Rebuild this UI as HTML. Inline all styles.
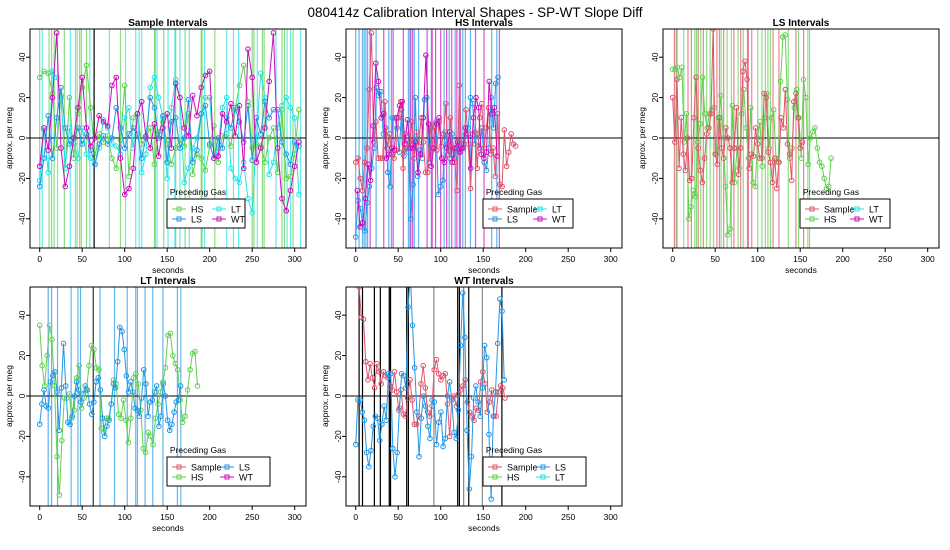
<!DOCTYPE html>
<html><head><meta charset="utf-8">
<style>
body{margin:0;background:#fff;}
svg{display:block;font-family:"Liberation Sans",sans-serif;}
</style></head>
<body>
<svg id="c" width="950" height="550">
<text x="475" y="17" text-anchor="middle" font-size="13.5">080414z   Calibration Interval Shapes - SP-WT Slope Diff</text>
</svg>
<script>
// ---- data ----
const xTicks=[0,50,100,150,200,250,300];
const yTicks=[-40,-20,0,20,40];
const panelTitles=["Sample Intervals","HS Intervals","LS Intervals","LT Intervals","WT Intervals"];
// panel 1
const p1HS=[30,33,32,22,-5,21,-15,20,-10,12,25,36,15,-9,2,-2,1,-10,-15,-1,26,-19,10,12,-3,0,5,-13,3,8,-3,-13,-5,-1,-4,12,-18,-8,-10,-16,-4,6,-12,1,2,-4,14,26,36,18,-5,-3,-4,-12,0,5,-17,14,-20,-19,-8,14];
const p1LS=[-24,-10,11,-10,10,25,5,-3,0,5,-3,2,-6,-13,-3,1,-3,0,15,5,-5,2,5,2,-10,0,20,15,0,11,-12,8,10,-5,0,19,-12,-6,12,16,-3,-10,0,-5,10,5,15,8,-2,16,-11,10,2,18,10,14,14,-2,-8,-13,-2,-4];
const p1LT=[-21,4,-17,33,30,20,-15,5,-3,-10,5,-8,-10,-13,-5,9,5,-3,-4,-8,10,15,-5,12,-17,-8,25,30,20,10,-20,15,29,20,-22,-15,-5,0,12,20,20,-10,-5,15,20,-15,-20,-22,-12,-30,-37,0,32,20,-18,-12,5,16,20,15,10,-28];
const p1WT=[-14,5,-6,20,52,-5,-24,-14,0,15,30,5,-4,0,11,8,6,26,30,-10,-28,-25,-15,12,18,1,-5,7,-9,5,12,-5,27,20,5,1,21,11,25,31,33,-10,-9,12,8,17,1,16,-15,44,30,-12,-5,5,28,52,-5,-30,-36,-26,-14,-2];
const p1VGreen=[0,11,14,17,29,44,47,49,55,95,135,136,146,160,171,190,191,206,250,252,262,264,285,288,298];
const p1VCyan=[3,21,36,42,59,82,101,113,117,120,138,151,159,165,176,194,220,228,234,256,278,291,295,307];
const p1VBlack=[64];
// panel 2
const p2Sample=[-12,-10,-20,-26,-12,-5,24,52,-2,8,-10,-10,-10,18,-5,2,-8,-10,-6,10,18,-15,2,-5,-2,8,-10,3,-4,10,-2,-17,-17,6,-5,5,-6,8,-4,2,17,-8,10,-5,-12,-26,26,-5,-3,14,-3,-25,2,3,-15,10,17,-5,5,15,-8,-5,-19,12,-23,-24,4,-14,-7,2,-3,-4];
const p2LS=[-49,-31,-35,-42,-46,-32,-24,-15,-5,25,21,23,2,5,-17,-24,10,10,5,-7,14,-9,-5,-7,-40,-23,20,-19,-6,-10,19,20,-12,5,6,8,-28,-24,-21,3,-3,-10,2,-10,-5,-7,-3,-5,2,5,20,17,-3,2,-5,5,-12,-16,-5,20,5,27,30];
const p2WT=[-26,-44,-42,-30,-13,-21,6,37,28,10,12,-10,-8,-5,-6,10,16,18,-3,9,-5,-5,-2,-17,-8,10,41,7,-14,-5,7,10,-10,-12,-5,3,-12,-5,-2,-7,-5,5,2,-15,10,20,15,-8,-10,-7,28,12,15,-9];
const p2VBlue=[0,4,8,10,12,14,24,39,42,62,65,69,74,89,104,110,117,122,126,129,135,160,166];
const p2VMag=[17,33,44,56,64,67,84,90,94,100,107,113,119,123,141,151,169];
// panel 3
const p3Sample=[20,-2,29,-15,10,-8,-16,0,-21,-20,10,30,-5,-16,-22,-10,2,5,12,54,-8,-13,10,-5,-10,5,0,-5,-22,-5,15,-18,-5,33,38,29,-15,-8,-9,5,-3,-10,-10,22,20,-7,-12,-22,-10,-25,-12,10,5,24,-3,-8,-21,18,22,10,-5,-2];
const p3HS=[34,34,35,30,35,-2,12,-40,-34,-26,-29,-2,7,30,12,5,12,14,15,-8,10,21,0,-24,-48,-45,16,-22,-5,-15,12,24,5,-10,15,-22,-24,0,8,-14,10,22,-5,10,14,-10,-12,28,50,51,19,-10,-5,15,24,10,-10,29,20,-13,0,3,5,-5,-12,-14,-20,-25,-24,-10];
const p3VRed=[2,5,18,22,30,36,52,55,60,72,80,88,89,93,118,125,145,154];
const p3VGreen=[4,13,26,28,33,40,44,48,57,64,69,77,83,100,105,109,112,115,136,148,159,161];
// panel 4
const p4HS=[35,15,5,20,35,28,5,-30,-49,-22,-1,-1,1,-11,-7,9,15,-6,-1,3,15,25,23,14,13,-16,-18,-11,-11,-4,8,6,-9,-11,-2,-12,-23,-11,9,11,6,-7,-26,-28,-18,-20,-24,-11,-4,2,7,14,30,31,20,16,13,-2,-13,-10,3,13,21,22,5];
const p4LS=[-14,-4,3,-5,-6,7,10,12,2,-17,4,26,5,-13,-14,-10,0,7,3,-3,1,5,3,-4,-9,-3,7,9,3,-11,-20,-15,-12,-4,6,4,17,34,32,23,10,2,7,2,-6,-7,-10,-1,13,6,-10,-3,-2,2,5,-15,-10,6,0,-12,-17,-14,-8,-3,-2,5];
const p4VBlue=[10,14,21,37,45,48,71,88,103,113,115,124,133,145,162,166];
const p4VDark=[63];
// panel 5
const p5Sample=[54,39,38,17,8,16,9,4,16,12,6,12,10,9,5,3,12,2,-7,3,-9,-10,-1,8,-2,-14,-14,-10,6,15,4,-8,-10,-5,13,18,11,8,10,11,-4,-20,-1,0,-5,1,3,5,8,-3,-8,-10,-12,-6,-7,7,12,6,-8,-3,3,-10,-10,2,5,4,-1];
const p5LS=[-24,-2,-2,-8,-12,-28,-35,-27,-15,-10,-11,-22,-14,-5,-12,11,11,-26,-40,-28,-6,11,10,4,44,60,35,14,-8,-30,-11,0,-5,-15,-21,-2,-3,-24,-13,-8,-25,-21,0,7,-2,-18,-21,-7,25,51,29,-17,-46,-30,-1,5,-3,-10,4,25,19,-19,-51,-10,2,26,48,42,8];
const p5VBlack=[4,8,22,29,40,41,60,62,120,122,133,172];
const p5VGray=[39,92,127,149];

// ---- rendering ----
const C={HS:"#61D04F",LS:"#2297E6",LT:"#28E2E5",WT:"#CD0BBC",Sample:"#DF536B"};
const svg=document.getElementById('c');
const NS="http://www.w3.org/2000/svg";
function mk(tag,attrs,parent){const e=document.createElementNS(NS,tag);for(const k in attrs)e.setAttribute(k,attrs[k]);(parent||svg).appendChild(e);return e;}
const BX0=30,BX1=306,BY0=29,BY1=248;
function xs(v){return 39.7+v*0.85;}
function ys(v){return 138-v*2.02;}
const offs=[[0,0],[316,0],[633,0],[0,258],[316,258]];
const panels=[
 {v:[[p1VGreen,C.HS,0.7],[p1VCyan,C.LT,0.7],[p1VBlack,"#000",1]],s:[[p1HS,C.HS,0,5],[p1LT,C.LT,0,5],[p1LS,C.LS,0,5],[p1WT,C.WT,0,5]],leg:[["HS",C.HS],["LT",C.LT],["LS",C.LS],["WT",C.WT]],lw:78},
 {v:[[p2VBlue,C.LS,0.7],[p2VMag,C.WT,0.7]],s:[[p2LS,C.LS,0,2.7],[p2Sample,C.Sample,0,2.65],[p2WT,C.WT,2,3.1]],leg:[["Sample",C.Sample],["LT",C.LT],["LS",C.LS],["WT",C.WT]],lw:90},
 {v:[[p3VRed,C.Sample,0.7],[p3VGreen,C.HS,0.7]],s:[[p3HS,C.HS,0,2.7],[p3Sample,C.Sample,0,2.5]],leg:[["Sample",C.Sample],["LT",C.LT],["HS",C.HS],["WT",C.WT]],lw:90},
 {v:[[p4VBlue,C.LS,0.7],[p4VDark,"#333",1]],s:[[p4HS,C.HS,0,2.9],[p4LS,C.LS,0,2.55]],leg:[["Sample",C.Sample],["LS",C.LS],["HS",C.HS],["WT",C.WT]],lw:103},
 {v:[[p5VGray,"#888",1],[p5VBlack,"#000",1]],s:[[p5Sample,C.Sample,4,2.6],[p5LS,C.LS,0,2.57]],leg:[["Sample",C.Sample],["LS",C.LS],["HS",C.HS],["LT",C.LT]],lw:103}
];
mk('defs',{}).innerHTML='<clipPath id="clip"><rect x="30" y="29" width="276" height="219"/></clipPath>';
panels.forEach((p,i)=>{
 const [ox,oy]=offs[i];
 const g=mk('g',{transform:`translate(${ox},${oy})`});
 
 
 const t=mk('text',{x:168,y:26,'text-anchor':'middle','font-size':10,'font-weight':'bold'},g);t.textContent=panelTitles[i];
 
 
 const cg=mk('g',{'clip-path':'url(#clip)'},g);
 p.v.forEach(([arr,col,op])=>arr.forEach(v=>{
  const l=mk('line',{x1:xs(v),x2:xs(v),y1:BY0,y2:BY1,stroke:col,'stroke-width':1.2,opacity:op},cg);
  
  
 }));
 mk('line',{x1:BX0,x2:BX1,y1:ys(0),y2:ys(0),stroke:"#000",'stroke-width':1},cg);
 p.s.forEach(([arr,col,x0,st])=>{
  const pts=arr.map((v,k)=>xs(x0+k*st).toFixed(1)+','+ys(v).toFixed(1)).join(' ');
  const pl=mk('polyline',{points:pts,fill:'none',stroke:col,'stroke-width':1},cg);
  
  
  arr.forEach((v,k)=>{
   const c=mk('circle',{cx:xs(x0+k*st),cy:ys(v),r:2.3,fill:'none',stroke:col,'stroke-width':1},cg);
   
   
  });
 });
 const box=mk('rect',{x:BX0,y:BY0,width:BX1-BX0,height:BY1-BY0,fill:'none',stroke:'#000','stroke-width':1},g);
 
 
 xTicks.forEach(v=>{
  mk('line',{x1:xs(v),x2:xs(v),y1:BY1,y2:BY1+4,stroke:'#000'},g);
  const tx=mk('text',{x:xs(v),y:BY1+14,'text-anchor':'middle','font-size':8.5},g);tx.textContent=v;
  
  
 });
 yTicks.forEach(v=>{
  mk('line',{x1:BX0-4,x2:BX0,y1:ys(v),y2:ys(v),stroke:'#000'},g);
  const ty=mk('text',{x:0,y:0,'text-anchor':'middle','font-size':8.5,transform:`translate(25,${ys(v)}) rotate(-90)`},g);ty.textContent=v;
  
  
 });
 const xl=mk('text',{x:168,y:273,'text-anchor':'middle','font-size':8.5},g);xl.textContent='seconds';
 
 
 const yl=mk('text',{x:0,y:0,'text-anchor':'middle','font-size':8.5,transform:'translate(12,138) rotate(-90)'},g);yl.textContent='approx. per meg';
 
 
 const L=mk('g',{},g);
 
 
 const lx=167,ly=199,w=p.lw;
 mk('rect',{x:lx,y:ly,width:w,height:29,fill:'#fff',stroke:'#000','stroke-width':1},L);
 const lt=mk('text',{x:lx+31,y:ly-4,'text-anchor':'middle','font-size':8.5},L);lt.textContent='Preceding Gas';
 p.leg.forEach(([name,col],k)=>{
  const cx=lx+5+(k%2)*(w>85?(w>95?48:45):40), cy=ly+10+Math.floor(k/2)*10;
  const e=mk('g',{},L);
  
  
  mk('line',{x1:cx,x2:cx+14,y1:cy,y2:cy,stroke:col},e);
  mk('rect',{x:cx+5,y:cy-2,width:4,height:4,fill:'none',stroke:col},e);
  const tt=mk('text',{x:cx+19,y:cy+3.5,'font-size':9},e);tt.textContent=name;
 });
});
</script>
</body></html>
